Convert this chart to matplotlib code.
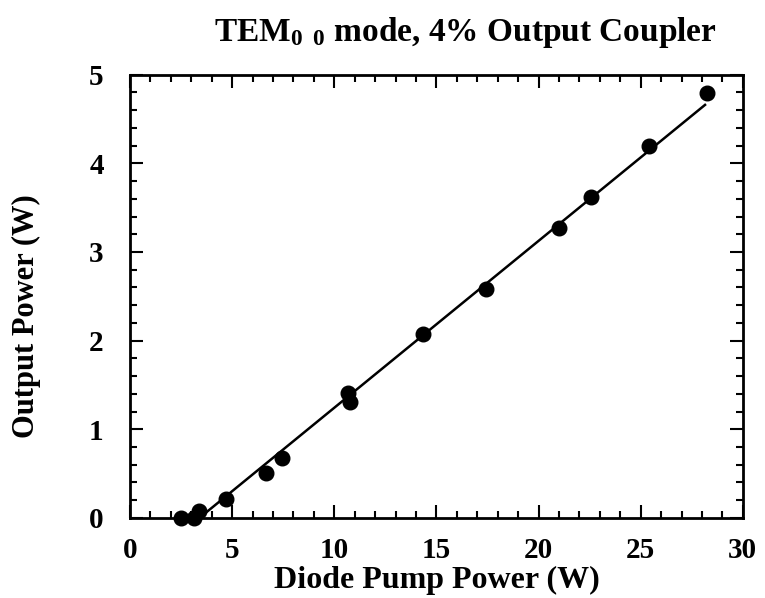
import numpy as np
import matplotlib
matplotlib.use("Agg")
import matplotlib.pyplot as plt
from matplotlib.ticker import MultipleLocator

plt.rcParams['font.family'] = ['Liberation Serif', 'DejaVu Serif']
plt.rcParams['font.weight'] = 'bold'
plt.rcParams['mathtext.fontset'] = 'custom'
plt.rcParams['mathtext.rm'] = 'Liberation Serif:bold'
plt.rcParams['mathtext.it'] = 'Liberation Serif:bold'
plt.rcParams['mathtext.bf'] = 'Liberation Serif:bold'

# measured points
pump_w = [2.5, 3.13, 3.39, 4.7, 6.64, 7.42, 10.69, 10.77, 14.36, 17.41, 21.0, 22.55, 25.42, 28.23]
output_w = [0.0, 0.0, 0.08, 0.21, 0.51, 0.67, 1.41, 1.31, 2.07, 2.58, 3.27, 3.62, 4.20, 4.79]

# linear fit drawn in the figure
fit_x = [3.4, 28.15]
fit_y = [0.0, 4.66]

fig = plt.figure(figsize=(7.65, 5.98), dpi=100)
ax = fig.add_axes([0.170, 0.134, 0.801, 0.741])

ax.plot(fit_x, fit_y, color='black', lw=1.8, zorder=2)
ax.plot(pump_w, output_w, 'o', color='black', markersize=10.5, zorder=3, clip_on=False)

ax.set_xlim(0, 30)
ax.set_ylim(0, 5)
ax.xaxis.set_major_locator(MultipleLocator(5))
ax.xaxis.set_minor_locator(MultipleLocator(1))
ax.yaxis.set_major_locator(MultipleLocator(1))
ax.yaxis.set_minor_locator(MultipleLocator(0.2))
ax.tick_params(which='both', direction='in', top=True, right=True, width=1.5, labelsize=21)
ax.tick_params(which='major', length=9.5)
ax.tick_params(which='minor', length=5)
ax.tick_params(axis='x', which='major', pad=14)
ax.tick_params(axis='y', which='major', pad=19)
for s in ax.spines.values():
    s.set_linewidth(2)

ax.set_xlabel('Diode Pump Power (W)', fontsize=23, fontweight='bold', labelpad=1)
ax.set_ylabel('Output Power (W)', fontsize=22, fontweight='bold')
ax.yaxis.set_label_coords(-0.145, 0.456)
ax.set_title(r'TEM$_{0\;\;0}$ mode, 4% Output Coupler', fontsize=24, fontweight='bold',
             x=0.548, pad=24)

fig.savefig('out.png', dpi=100)
